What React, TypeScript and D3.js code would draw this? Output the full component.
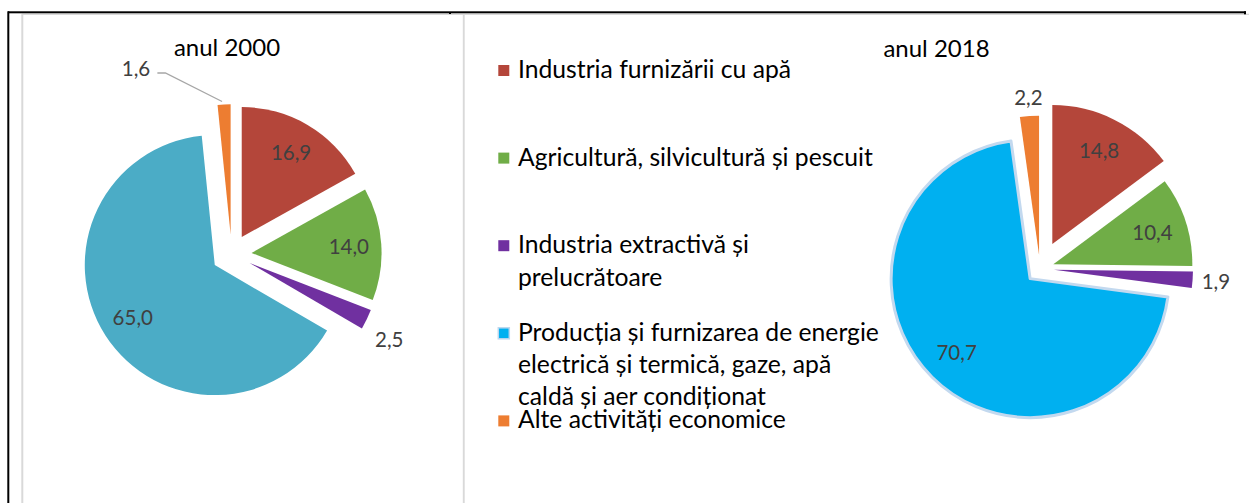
import React from "react";
import * as d3 from "d3";

// ---------- data ----------
const categories = [
  "Industria furnizării cu apă",
  "Agricultură, silvicultură și pescuit",
  "Industria extractivă și prelucrătoare",
  "Producția și furnizarea de energie electrică și termică, gaze, apă caldă și aer condiționat",
  "Alte activități economice",
];
const legendLines = [
  ["Industria furnizării cu apă"],
  ["Agricultură, silvicultură și pescuit"],
  ["Industria extractivă și", "prelucrătoare"],
  ["Producția și furnizarea de energie", "electrică și termică, gaze, apă", "caldă și aer condiționat"],
  ["Alte activități economice"],
];
const values2000 = [16.9, 14.0, 2.5, 65.0, 1.6];
const values2018 = [14.8, 10.4, 1.9, 70.7, 2.2];
const titles = ["anul 2000", "anul 2018"];

// ---------- styles / layout ----------
const colors2000 = ["#b4463a", "#70ad47", "#7030a0", "#4bacc6", "#ed7d31"];
const colors2018 = ["#b4463a", "#70ad47", "#7030a0", "#00b0f0", "#ed7d31"];
const FONT = "Lato, 'Open Sans', sans-serif";
const LABEL_FS = 20.5;
const LEGEND_FS = 24.7;
const TITLE_FS = 24;

type PieCfg = {
  values: number[];
  colors: string[];
  title: string;
  titleX: number;
  titleY: number;
  cx: number;
  cy: number;
  r: number;
  explode: number[];
  labelMode: string[]; // in | out | leader
  nudge: [number, number][];
  leaderOffset?: [number, number];
  strokeIdx?: number;
};

const pies: PieCfg[] = [
  {
    values: values2000,
    colors: colors2000,
    title: titles[0],
    titleX: 227,
    titleY: 56,
    cx: 231.6,
    cy: 254.3,
    r: 130,
    explode: [20, 20, 20, 20, 20],
    labelMode: ["in", "in", "out", "in", "leader"],
    nudge: [[0, 0], [0, 0], [0, 9], [0, 0], [0, 0]],
    leaderOffset: [-95.6, -185.3],
  },
  {
    values: values2018,
    colors: colors2018,
    title: titles[1],
    titleX: 936.5,
    titleY: 57,
    cx: 1040,
    cy: 268.7,
    r: 139,
    explode: [27.5, 14, 14, 14, 14],
    labelMode: ["in", "in", "out", "in", "out"],
    nudge: [[0, 0], [0, 0], [0, 0], [0, 0], [0, -3]],
    strokeIdx: 3,
  },
];

const fmt = (v: number) => d3.format(".1f")(v).replace(".", ",");

function Pie({ cfg }: { cfg: PieCfg }) {
  const pieGen = d3
    .pie<number>()
    .sort(null)
    .value((d) => d)
    .startAngle(0)
    .endAngle(2 * Math.PI);
  const arcs = pieGen(cfg.values);
  const arcGen = d3.arc<d3.PieArcDatum<number>>().innerRadius(0).outerRadius(cfg.r);
  const pad = 8;

  return (
    <g>
      <text
        x={cfg.titleX}
        y={cfg.titleY}
        textAnchor="middle"
        fontFamily={FONT}
        fontSize={TITLE_FS}
        fill="#000"
      >
        {cfg.title}
      </text>
      {arcs.map((a, i) => {
        const mid = (a.startAngle + a.endAngle) / 2;
        const dx = Math.sin(mid);
        const dy = -Math.cos(mid);
        const e = cfg.explode[i];
        const ox = cfg.cx + dx * e;
        const oy = cfg.cy + dy * e;
        return (
          <path
            key={"s" + i}
            d={arcGen(a) || ""}
            transform={`translate(${ox},${oy})`}
            fill={cfg.colors[i]}
            stroke={cfg.strokeIdx === i ? "#c3d9ef" : "none"}
            strokeWidth={cfg.strokeIdx === i ? 3 : 0}
            strokeLinejoin="round"
          />
        );
      })}
      {arcs.map((a, i) => {
        const mid = (a.startAngle + a.endAngle) / 2;
        const dx = Math.sin(mid);
        const dy = -Math.cos(mid);
        const e = cfg.explode[i];
        const txt = fmt(cfg.values[i]);
        const hw = (txt.length * 0.5 * LABEL_FS) / 2;
        const hh = 0.375 * LABEL_FS;
        const mode = cfg.labelMode[i];
        const [nx, ny] = cfg.nudge[i];
        if (mode === "in") {
          const rr = e + 0.75 * cfg.r;
          return (
            <text
              key={"l" + i}
              x={cfg.cx + dx * rr + nx}
              y={cfg.cy + dy * rr + ny}
              dy="0.36em"
              textAnchor="middle"
              fontFamily={FONT}
              fontSize={LABEL_FS}
              fill="#404040"
            >
              {txt}
            </text>
          );
        }
        const px = cfg.cx + dx * (e + cfg.r);
        const py = cfg.cy + dy * (e + cfg.r);
        if (mode === "out") {
          const t = Math.min(
            Math.abs(dx) > 1e-6 ? hw / Math.abs(dx) : 1e9,
            Math.abs(dy) > 1e-6 ? hh / Math.abs(dy) : 1e9
          );
          return (
            <text
              key={"l" + i}
              x={px + dx * (pad + t) + nx}
              y={py + dy * (pad + t) + ny}
              dy="0.36em"
              textAnchor="middle"
              fontFamily={FONT}
              fontSize={LABEL_FS}
              fill="#404040"
            >
              {txt}
            </text>
          );
        }
        // leader label
        const [lox, loy] = cfg.leaderOffset || [0, 0];
        const lx = cfg.cx + lox;
        const ly = cfg.cy + loy;
        const pts: [number, number][] = [
          [lx + hw + 6, ly + 4],
          [lx + hw + 14, ly + 4],
          [px - 2, py - 3],
        ];
        return (
          <g key={"l" + i}>
            <path d={d3.line()(pts) || ""} fill="none" stroke="#a6a6a6" strokeWidth={1.3} />
            <text
              x={lx}
              y={ly}
              dy="0.36em"
              textAnchor="middle"
              fontFamily={FONT}
              fontSize={LABEL_FS}
              fill="#404040"
            >
              {txt}
            </text>
          </g>
        );
      })}
    </g>
  );
}

function Legend() {
  const x0 = 498.3;
  const y0 = 78;
  const step = 87.6;
  const lineH = 32.3;
  const ms = 11;
  return (
    <g>
      {categories.map((c, i) => {
        const by = y0 + i * step;
        return (
          <g key={"lg" + i}>
            <rect
              x={x0}
              y={by - 7.5 - ms / 2}
              width={ms}
              height={ms}
              fill={colors2018[i]}
              stroke={i === 3 ? "#bdd7ee" : "none"}
              strokeWidth={i === 3 ? 1.5 : 0}
            />
            <text fontFamily={FONT} fontSize={LEGEND_FS} fill="#000">
              {legendLines[i].map((ln, j) => (
                <tspan key={j} x={x0 + 19.7} y={by + j * lineH}>
                  {ln}
                </tspan>
              ))}
            </text>
          </g>
        );
      })}
    </g>
  );
}

export default function App() {
  return (
    <svg
      width={1249}
      height={503}
      style={{ position: "absolute", left: 0, top: 0, background: "#fff" }}
    >
      <rect x={0} y={0} width={1249} height={503} fill="#fff" />
      {/* frame */}
      <rect x={22} y={13.7} width={1227} height={1.3} fill="#d9d9d9" />
      <rect x={21.3} y={14} width={2} height={489} fill="#d9d9d9" />
      <rect x={462.8} y={14} width={1.9} height={489} fill="#d9d9d9" />
      <rect x={8} y={11.3} width={1238} height={2} fill="#000" />
      <rect x={7.3} y={11.3} width={2} height={492} fill="#000" />
      <rect x={449} y={12} width={2} height={2} fill="#000" />
      <rect x={1244} y={11.3} width={2} height={3} fill="#000" />
      {pies.map((p, i) => (
        <Pie key={i} cfg={p} />
      ))}
      <Legend />
    </svg>
  );
}
